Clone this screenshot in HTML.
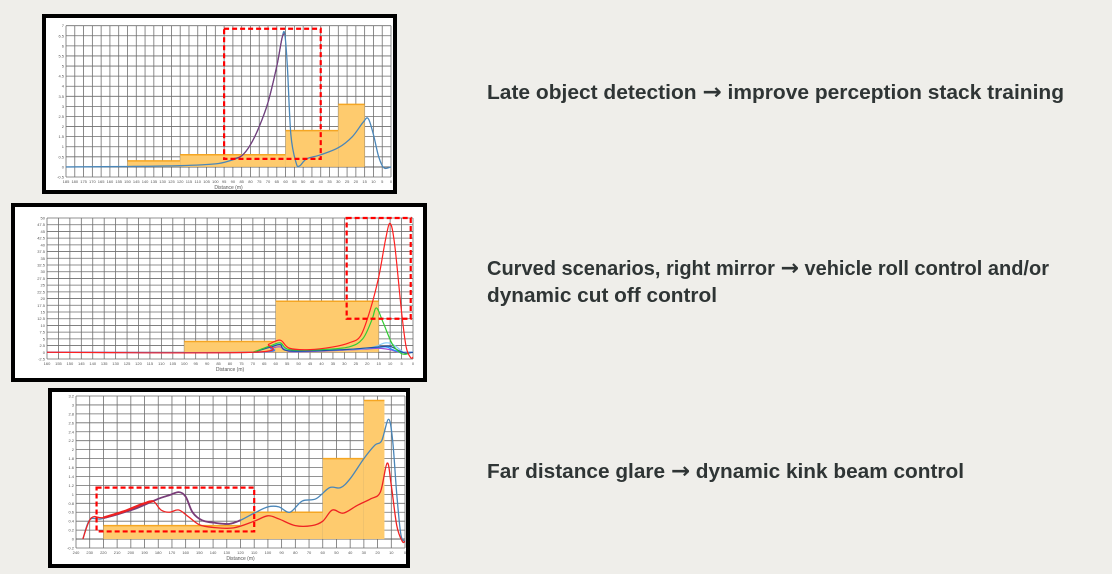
<!DOCTYPE html>
<html><head><meta charset="utf-8"><style>
html,body{margin:0;padding:0;background:#efeeea;}
svg{display:block}
text.t{font-family:"Liberation Sans",sans-serif;font-weight:bold;font-size:20px;fill:#2f3535}
tspan.a{font-family:"DejaVu Sans",sans-serif;font-weight:bold;font-size:22px}
</style></head><body>
<svg id="s" width="1112" height="574" viewBox="0 0 1112 574" xmlns="http://www.w3.org/2000/svg">
<rect width="1112" height="574" fill="#efeeea"/>
<text class="t" x="487" y="99" textLength="577" lengthAdjust="spacingAndGlyphs">Late object detection <tspan class="a">→</tspan> improve perception stack training</text>
<text class="t" x="487" y="275" textLength="562" lengthAdjust="spacingAndGlyphs">Curved scenarios, right mirror <tspan class="a">→</tspan> vehicle roll control and/or</text>
<text class="t" x="487" y="302" textLength="230" lengthAdjust="spacingAndGlyphs">dynamic cut off control</text>
<text class="t" x="487" y="478" textLength="477" lengthAdjust="spacingAndGlyphs">Far distance glare <tspan class="a">→</tspan> dynamic kink beam control</text>
</svg>
<script>
const NS="http://www.w3.org/2000/svg",S=document.getElementById('s');
function el(n,a,p){const e=document.createElementNS(NS,n);for(const k in a)e.setAttribute(k,a[k]);(p||S).appendChild(e);return e;}
function path(pts){let d='M'+pts[0][0]+','+pts[0][1];for(let i=0;i<pts.length-1;i++){const p0=pts[i-1]||pts[i],p1=pts[i],p2=pts[i+1],p3=pts[i+2]||p2;
d+=' C'+(p1[0]+(p2[0]-p0[0])/6)+','+(p1[1]+(p2[1]-p0[1])/6)+' '+(p2[0]-(p3[0]-p1[0])/6)+','+(p2[1]-(p3[1]-p1[1])/6)+' '+p2[0]+','+p2[1];}return d;}
function chart(c){
 el('rect',{x:c.fx,y:c.fy,width:c.fw,height:c.fh,fill:'#000'});
 el('rect',{x:c.fx+4,y:c.fy+4,width:c.fw-8,height:c.fh-8,fill:'#fff'});
 const X=v=>c.x0+(c.xmax-v)/c.xmax*(c.x1-c.x0), Y=v=>c.y1-(v-c.ymin)/(c.ymax-c.ymin)*(c.y1-c.y0);
 for(let v=0;v<=c.xmax+1e-6;v+=c.xs){const x=X(v);el('line',{x1:x,y1:c.y0,x2:x,y2:c.y1,stroke:'#6e6e6e','stroke-width':0.8});
  const t=el('text',{x:x,y:c.y1+6,'font-size':4,'text-anchor':'middle','font-family':'Liberation Sans',fill:'#555'});t.textContent=Math.round(v);}
 for(let v=c.ymin;v<=c.ymax+1e-6;v+=c.ys){const y=Y(v);el('line',{x1:c.x0,y1:y,x2:c.x1,y2:y,stroke:'#6e6e6e','stroke-width':0.8});
  const t=el('text',{x:c.x0-2,y:y+1.5,'font-size':4,'text-anchor':'end','font-family':'Liberation Sans',fill:'#555'});t.textContent=+v.toFixed(1);}
 el('line',{x1:c.x0,y1:Y(0),x2:c.x1,y2:Y(0),stroke:'#555','stroke-width':0.8});
 const xl=el('text',{x:(c.x0+c.x1)/2,y:c.y1+12,'font-size':5,'text-anchor':'middle','font-family':'Liberation Sans',fill:'#555'});xl.textContent='Distance (m)';
 for(const b of c.boxes){el('rect',{x:X(b[0]),y:Y(b[2]),width:X(b[1])-X(b[0]),height:Y(0)-Y(b[2]),fill:'#fecb6e'});
  el('line',{x1:X(b[0]),y1:Y(b[2]),x2:X(b[1]),y2:Y(b[2]),stroke:'#f5a623','stroke-width':1.5});}
 for(const cv of c.curves){el('path',{d:path(cv.p.map(q=>[X(q[0]),Y(q[1])])),fill:'none',stroke:cv.c,'stroke-width':cv.w||1.2});}
 const r=c.red;el('rect',{x:X(r[0]),y:Y(r[2]),width:X(r[1])-X(r[0]),height:Y(r[3])-Y(r[2]),fill:'none',stroke:'#f00','stroke-width':2.2,'stroke-dasharray':'5,3'});
}
chart({fx:42,fy:14,fw:355,fh:180,x0:66,x1:391,y0:25.7,y1:177,xmax:185,xs:5,ymin:-0.5,ymax:7,ys:0.5,
 boxes:[[150,120,0.3],[120,60,0.6],[60,30,1.8],[30,15,3.1]],
 curves:[{c:'#4a86b8',w:1.3,p:[[185,0],[150,0.02],[120,0.06],[100,0.15],[92,0.3],[85,0.55],[80,1.1],[75,2],[70,3.2],[65,5],[62,6.4],[60.5,6.6],[59,5],[57,1.6],[54,0.2],[52,0.05],[48,0.4],[40,0.6],[30,0.95],[22,1.5],[16,2.2],[13,2.4],[10,1.6],[7,0.5],[4,-0.05],[0,0]]},
  {c:'#7a3c78',w:1.2,p:[[90,0.4],[85,0.55],[80,1.1],[75,2],[70,3.2],[65,5],[62,6.4],[60.5,6.6]]}],
 red:[95,40,6.85,0.4]});
chart({fx:11,fy:203,fw:416,fh:179,x0:47,x1:413,y0:218,y1:359,xmax:160,xs:5,ymin:-2.5,ymax:50,ys:2.5,
 boxes:[[100,60,4],[60,15,19]],
 curves:[{c:'#9b4fd6',p:[[160,0],[70,0],[62,1.5],[58,2],[54,0.3],[45,0.3],[30,0.8],[20,1.2],[15,1.5],[10,1],[6,0],[0,0]]},
  {c:'#1e90ff',p:[[160,0],[70,0],[62,2],[58,3],[54,0.6],[45,0.5],[30,1],[20,1.5],[12,2],[9,1],[5,0],[0,0]]},
  {c:'#87cefa',p:[[70,0],[62,2.2],[58,3.2],[54,0.8],[40,0.7],[20,1.5],[12,3.5],[8,2.5],[4,0],[0,0]]},
  {c:'#2050a0',p:[[70,0],[62,2],[58,2.8],[54,0.5],[30,1],[15,2],[10,2.2],[6,0.5],[3,-0.3],[0,0]]},
  {c:'#32cd32',p:[[70,0],[62,2.5],[58,3.5],[54,1],[40,1],[28,2],[22,5],[18,12],[16,16.5],[13,11],[9,3],[5,-0.5],[2,-0.5]]},
  {c:'#ff2020',p:[[160,0],[70,0],[63,3],[58,4.5],[54,1.5],[45,1],[35,2],[28,3.5],[23,6],[19,15],[15,28],[12,42],[10,48],[8,40],[5,15],[3,2],[1,-2],[0,-1.8]]}],
 red:[29,1,50,12.5]});
chart({fx:48,fy:388,fw:362,fh:180,x0:76,x1:405,y0:396,y1:548,xmax:240,xs:10,ymin:-0.2,ymax:3.2,ys:0.2,
 boxes:[[220,120,0.3],[120,60,0.6],[60,30,1.8],[30,15,3.1]],
 curves:[{c:'#4a86b8',w:1.3,p:[[235,0],[230,0.43],[222,0.45],[210,0.55],[195,0.7],[180,0.9],[172,0.98],[165,1.05],[160,0.95],[155,0.6],[148,0.42],[138,0.36],[128,0.34],[120,0.42],[110,0.58],[100,0.72],[92,0.72],[84,0.6],[75,0.85],[65,0.9],[55,1.15],[47,1.15],[40,1.35],[30,1.8],[22,2.1],[17,2.2],[12,2.68],[9,2.2],[6,1],[3,0.1],[0,-0.05]]},
  {c:'#7a3c78',w:1.8,p:[[220,0.47],[210,0.55],[195,0.7],[180,0.9],[172,0.98],[165,1.05],[160,0.95],[155,0.6],[148,0.42],[138,0.36],[128,0.34],[120,0.42]]},
  {c:'#ee2222',w:1.3,p:[[235,0],[229,0.47],[220,0.48],[205,0.62],[192,0.78],[184,0.85],[178,0.65],[172,0.6],[165,0.65],[158,0.5],[150,0.32],[140,0.26],[125,0.25],[110,0.4],[100,0.52],[92,0.45],[80,0.3],[68,0.3],[60,0.4],[53,0.65],[45,0.58],[35,0.75],[25,0.9],[18,1.05],[13,1.7],[10,1.2],[6,0.3],[2,-0.05],[0,-0.05]]},
  {c:'#ee2222',w:2.2,p:[[220,0.48],[205,0.62],[192,0.78],[184,0.85]]}],
 red:[225,110,1.15,0.17]});
</script>
</body></html>
